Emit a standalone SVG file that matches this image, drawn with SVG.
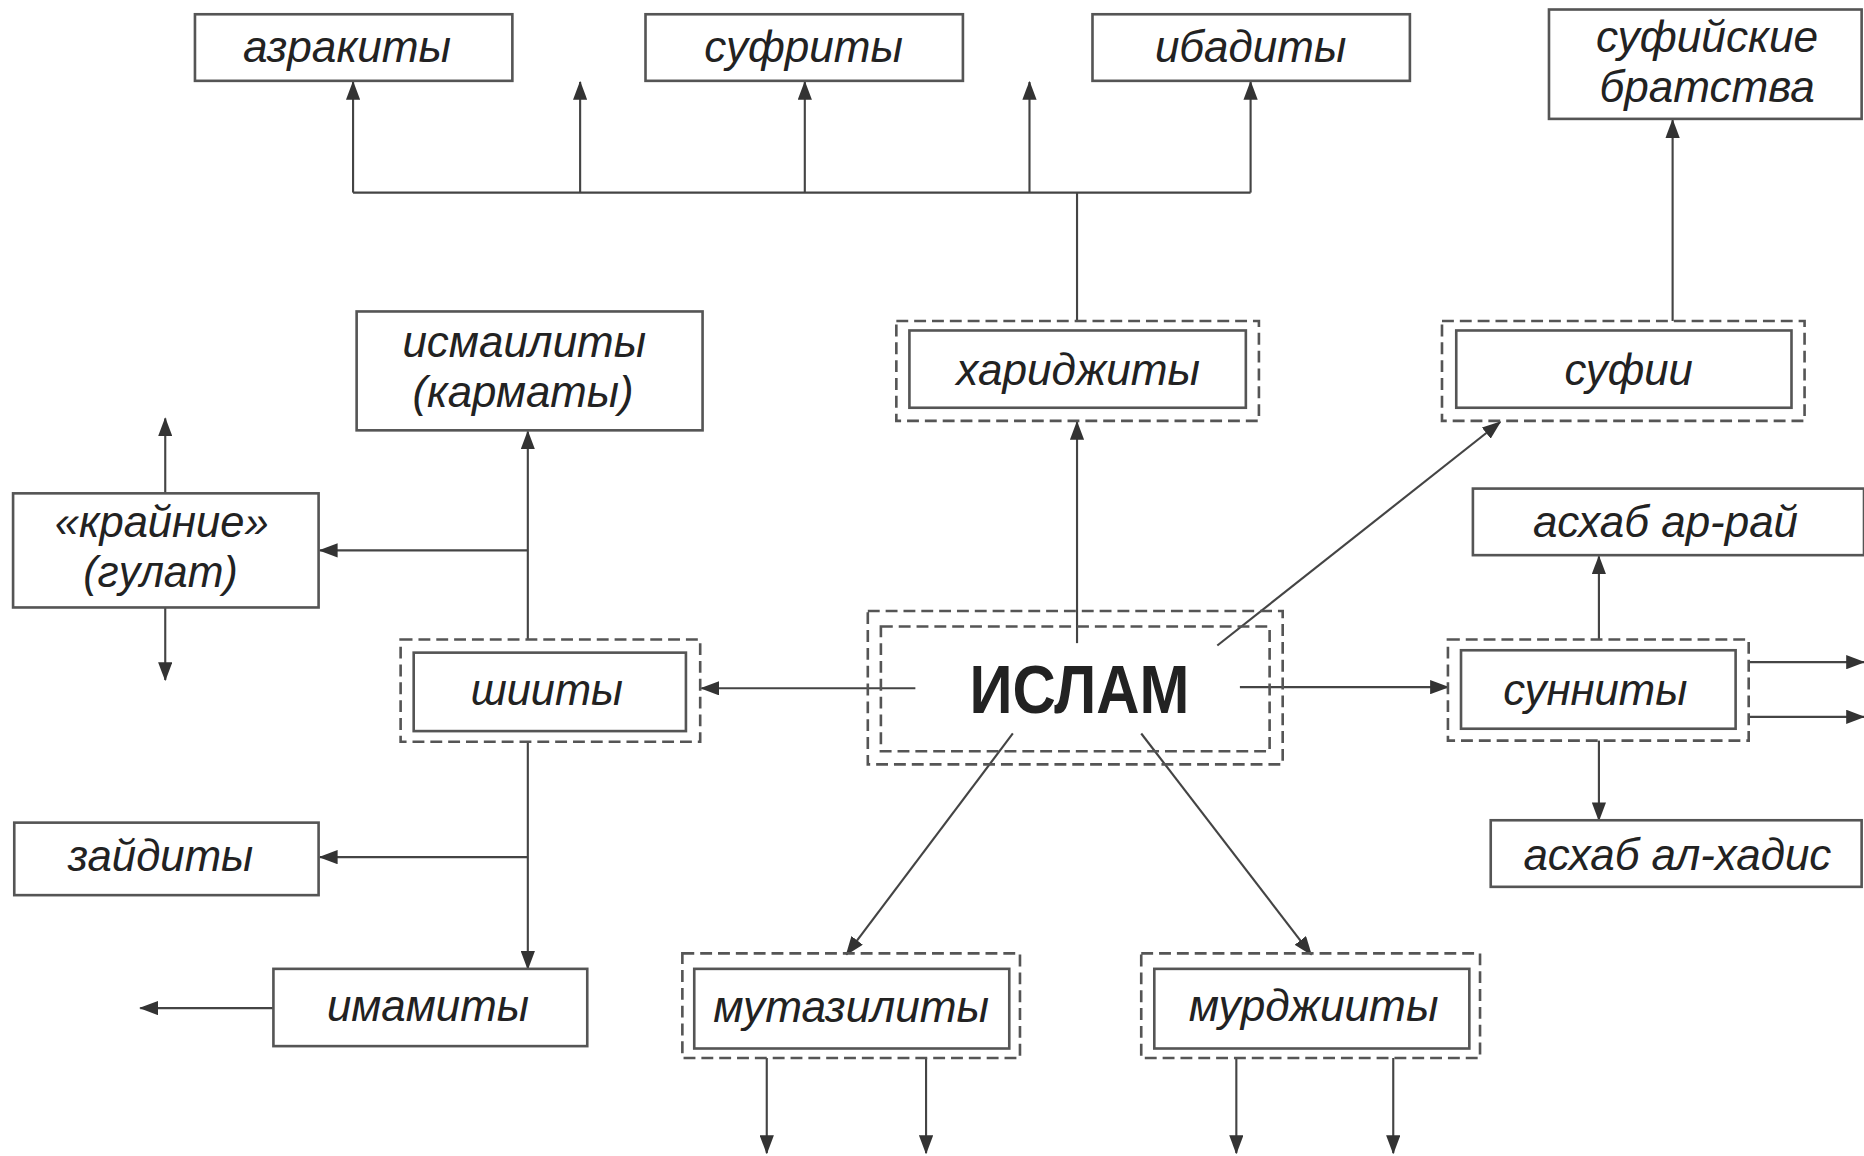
<svg xmlns="http://www.w3.org/2000/svg" width="1864" height="1156" viewBox="0 0 1864 1156">
<defs>
<marker id="ah" markerUnits="userSpaceOnUse" markerWidth="16" markerHeight="12" viewBox="0 0 16 12" refX="15" refY="6" orient="auto">
<path d="M0,0 L16,6 L0,12 Z" fill="#333"/>
</marker>
</defs>
<style>
.box{fill:#fff;stroke:#555;stroke-width:2.2}
.dash{fill:none;stroke:#555;stroke-width:2.2;stroke-dasharray:10 5}
.ln{fill:none;stroke:#444;stroke-width:1.8}
.ar{fill:none;stroke:#444;stroke-width:1.8;marker-end:url(#ah)}
.t{font-family:"Liberation Sans",Arial,sans-serif;font-style:italic;font-size:38px;fill:#222;text-anchor:middle}
.big{font-family:"Liberation Sans",Arial,sans-serif;font-weight:bold;font-size:57px;fill:#222;text-anchor:middle}
</style>
<rect width="1864" height="1156" fill="#fff"/>
<g transform="scale(1.18878)">
<g id="connectors">
<path class="ln" d="M297,162 H1052"/>
<path class="ar" d="M297,162 V69"/>
<path class="ar" d="M488,162 V69"/>
<path class="ar" d="M677,162 V69"/>
<path class="ar" d="M866,162 V69"/>
<path class="ar" d="M1052,162 V69"/>
<path class="ln" d="M906,162 V270"/>
<path class="ar" d="M1407,270 V101"/>
<path class="ar" d="M906,541 V355"/>
<path class="ar" d="M1024,543 L1262,355"/>
<path class="ar" d="M770,579 H590"/>
<path class="ar" d="M1043,578 H1218"/>
<path class="ar" d="M852,617 L712,803"/>
<path class="ar" d="M960,617 L1103,803"/>
<path class="ar" d="M444,538 V363"/>
<path class="ar" d="M444,463 H269"/>
<path class="ar" d="M139,415 V352"/>
<path class="ar" d="M139,511 V572"/>
<path class="ar" d="M444,624 V815"/>
<path class="ar" d="M444,721 H269"/>
<path class="ar" d="M230,848 H118"/>
<path class="ar" d="M1345,538 V468"/>
<path class="ar" d="M1345,623 V690"/>
<path class="ar" d="M1471,557 H1568"/>
<path class="ar" d="M1471,603 H1568"/>
<path class="ar" d="M645,890 V970"/>
<path class="ar" d="M779,890 V970"/>
<path class="ar" d="M1040,890 V970"/>
<path class="ar" d="M1172,890 V970"/>
</g>
<g id="azrakity"><rect class="box" x="164" y="12" width="267" height="56"/><text class="t" x="292" y="52" textLength="175" lengthAdjust="spacingAndGlyphs">азракиты</text></g>
<g id="sufrity"><rect class="box" x="543" y="12" width="267" height="56"/><text class="t" x="676" y="52" textLength="167" lengthAdjust="spacingAndGlyphs">суфриты</text></g>
<g id="ibadity"><rect class="box" x="919" y="12" width="267" height="56"/><text class="t" x="1052" y="52" textLength="161" lengthAdjust="spacingAndGlyphs">ибадиты</text></g>
<g id="bratstva"><rect class="box" x="1303" y="8" width="263" height="92"/><text class="t" x="1436" y="44" textLength="187" lengthAdjust="spacingAndGlyphs">суфийские</text><text class="t" x="1436" y="86" textLength="181" lengthAdjust="spacingAndGlyphs">братства</text></g>
<g id="haridzhity"><rect class="dash" x="754" y="270" width="305" height="84"/><rect class="box" x="765" y="278" width="283" height="65"/><text class="t" x="907" y="324" textLength="205" lengthAdjust="spacingAndGlyphs">хариджиты</text></g>
<g id="sufii"><rect class="dash" x="1213" y="270" width="305" height="84"/><rect class="box" x="1225" y="278" width="282" height="65"/><text class="t" x="1370" y="324" textLength="108" lengthAdjust="spacingAndGlyphs">суфии</text></g>
<g id="ismaility"><rect class="box" x="300" y="262" width="291" height="100"/><text class="t" x="441" y="300" textLength="205" lengthAdjust="spacingAndGlyphs">исмаилиты</text><text class="t" x="440" y="342" textLength="186" lengthAdjust="spacingAndGlyphs">(карматы)</text></g>
<g id="krainie"><rect class="box" x="11" y="415" width="257" height="96"/><text class="t" x="136" y="452" textLength="180" lengthAdjust="spacingAndGlyphs">«крайние»</text><text class="t" x="135" y="494" textLength="130" lengthAdjust="spacingAndGlyphs">(гулат)</text></g>
<g id="shiity"><rect class="dash" x="337" y="538" width="252" height="86"/><rect class="box" x="348" y="549" width="229" height="66"/><text class="t" x="460" y="593" textLength="128" lengthAdjust="spacingAndGlyphs">шииты</text></g>
<g id="islam"><rect class="dash" x="730" y="514" width="349" height="129"/><rect class="dash" x="741" y="527" width="327" height="105"/><text class="big" x="908" y="600" textLength="185" lengthAdjust="spacingAndGlyphs">ИСЛАМ</text></g>
<g id="sunnity"><rect class="dash" x="1218" y="538" width="253" height="85"/><rect class="box" x="1229" y="547" width="231" height="66"/><text class="t" x="1342" y="593" textLength="155" lengthAdjust="spacingAndGlyphs">сунниты</text></g>
<g id="ashab-ar-rai"><rect class="box" x="1239" y="411" width="329" height="56"/><text class="t" x="1401" y="452" textLength="223" lengthAdjust="spacingAndGlyphs">асхаб ар-рай</text></g>
<g id="ashab-al-hadis"><rect class="box" x="1254" y="690" width="312" height="56"/><text class="t" x="1411" y="732" textLength="259" lengthAdjust="spacingAndGlyphs">асхаб ал-хадис</text></g>
<g id="zaidity"><rect class="box" x="12" y="692" width="256" height="61"/><text class="t" x="135" y="733" textLength="156" lengthAdjust="spacingAndGlyphs">зайдиты</text></g>
<g id="imamity"><rect class="box" x="230" y="815" width="264" height="65"/><text class="t" x="360" y="859" textLength="170" lengthAdjust="spacingAndGlyphs">имамиты</text></g>
<g id="mutazility"><rect class="dash" x="574" y="802" width="284" height="88"/><rect class="box" x="584" y="815" width="265" height="67"/><text class="t" x="716" y="860" textLength="232" lengthAdjust="spacingAndGlyphs">мутазилиты</text></g>
<g id="murdzhiity"><rect class="dash" x="960" y="802" width="285" height="88"/><rect class="box" x="971" y="815" width="265" height="67"/><text class="t" x="1105" y="859" textLength="210" lengthAdjust="spacingAndGlyphs">мурджииты</text></g>
</g>
</svg>
